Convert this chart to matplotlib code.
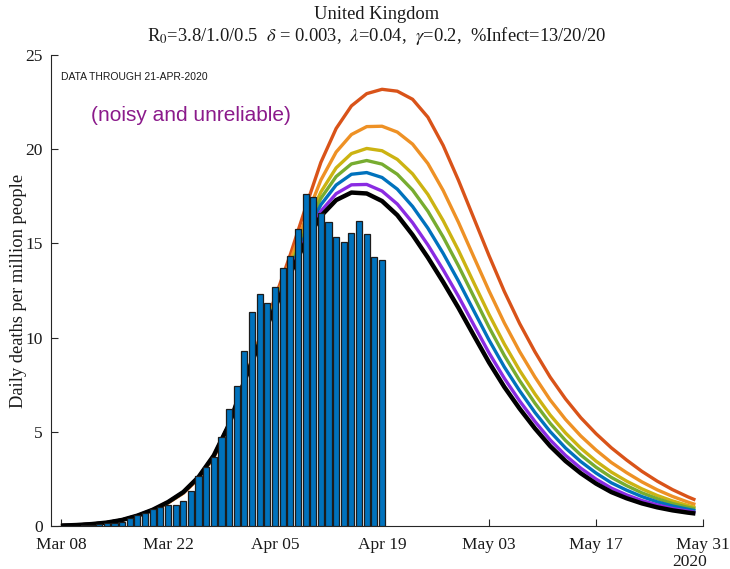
import numpy as np
import matplotlib
matplotlib.use("Agg")
import matplotlib.pyplot as plt

plt.rcParams["mathtext.fontset"] = "stix"
SERIF = ["Liberation Serif", "DejaVu Serif"]
SANS = ["Liberation Sans", "DejaVu Sans"]

# Observed daily deaths per million, Mar 08 .. Apr 19 (one value per day)
obs_start = 0  # day offset of Mar 08
observed = [0.00, 0.02, 0.02, 0.03, 0.05, 0.08,
            0.18, 0.18, 0.23, 0.44, 0.58, 0.67, 0.89, 1.03, 1.11, 1.11,
            1.34, 1.86, 2.67, 3.15, 3.68, 4.71, 6.23, 7.43, 9.31, 11.38,
            12.31, 11.82, 12.67, 13.68, 14.35, 15.75, 17.62, 17.45, 16.60,
            16.15, 15.32, 15.09, 15.53, 16.19, 15.50, 14.26, 14.12]

# Model days (offset from Mar 08)
model_days = [0, 2, 4, 6, 8, 10, 12, 14, 16, 18, 20, 22, 24, 26, 28, 30, 32,
              34, 36, 38, 40, 42, 44, 46, 48, 50, 52, 54, 56, 58, 60, 62, 64,
              66, 68, 70, 72, 74, 76, 78, 80, 82, 83]

model_red = [0.02, 0.05, 0.10, 0.18, 0.31, 0.53, 0.83, 1.22, 1.74, 2.52, 3.65,
             5.35, 7.75, 10.00, 12.10, 14.40, 16.90, 19.30, 21.10, 22.30,
             22.95, 23.18, 23.08, 22.65, 21.70, 20.20, 18.35, 16.35, 14.35,
             12.45, 10.75, 9.25, 7.90, 6.75, 5.75, 4.90, 4.15, 3.50, 2.90,
             2.38, 1.93, 1.55, 1.38]
model_orange = [0.02, 0.05, 0.10, 0.18, 0.31, 0.54, 0.84, 1.24, 1.76, 2.55,
                3.68, 5.37, 7.73, 9.92, 11.94, 14.07, 16.31, 18.36, 19.85,
                20.78, 21.20, 21.22, 20.91, 20.27, 19.24, 17.81, 16.12, 14.29,
                12.48, 10.78, 9.26, 7.91, 6.69, 5.66, 4.78, 4.03, 3.37, 2.83,
                2.34, 1.92, 1.57, 1.27, 1.14]
model_yellow = [0.02, 0.05, 0.10, 0.18, 0.32, 0.54, 0.85, 1.25, 1.77, 2.56,
                3.70, 5.38, 7.72, 9.86, 11.83, 13.85, 15.91, 17.73, 19.01,
                19.77, 20.04, 19.92, 19.46, 18.69, 17.60, 16.21, 14.63, 12.92,
                11.23, 9.66, 8.26, 7.01, 5.89, 4.94, 4.13, 3.44, 2.86, 2.38,
                1.97, 1.62, 1.33, 1.09, 0.98]
model_green = [0.02, 0.05, 0.10, 0.18, 0.32, 0.54, 0.85, 1.25, 1.78, 2.57,
               3.72, 5.38, 7.72, 9.83, 11.77, 13.73, 15.69, 17.39, 18.55,
               19.22, 19.40, 19.21, 18.67, 17.83, 16.71, 15.34, 13.81, 12.18,
               10.55, 9.05, 7.72, 6.52, 5.45, 4.54, 3.77, 3.12, 2.58, 2.14,
               1.76, 1.45, 1.19, 0.99, 0.90]
model_blue = [0.02, 0.05, 0.10, 0.18, 0.32, 0.55, 0.85, 1.26, 1.79, 2.58,
              3.73, 5.39, 7.71, 9.80, 11.71, 13.61, 15.48, 17.05, 18.10,
              18.67, 18.76, 18.50, 17.88, 16.96, 15.81, 14.47, 13.00, 11.43,
              9.87, 8.44, 7.18, 6.03, 5.01, 4.14, 3.42, 2.81, 2.29, 1.90,
              1.56, 1.28, 1.06, 0.89, 0.81]
model_purple = [0.02, 0.05, 0.10, 0.18, 0.32, 0.55, 0.86, 1.27, 1.79, 2.59,
                3.74, 5.40, 7.70, 9.77, 11.65, 13.49, 15.26, 16.71, 17.64,
                18.11, 18.13, 17.78, 17.09, 16.10, 14.92, 13.60, 12.19, 10.68,
                9.19, 7.84, 6.64, 5.55, 4.57, 3.75, 3.07, 2.49, 2.01, 1.65,
                1.35, 1.12, 0.93, 0.79, 0.72]
model_black = [0.02, 0.05, 0.10, 0.18, 0.32, 0.55, 0.86, 1.27, 1.80, 2.60,
               3.75, 5.40, 7.70, 9.75, 11.60, 13.40, 15.10, 16.45, 17.30,
               17.70, 17.65, 17.25, 16.50, 15.45, 14.25, 12.95, 11.58, 10.12,
               8.68, 7.38, 6.23, 5.18, 4.24, 3.45, 2.80, 2.25, 1.80, 1.47,
               1.20, 0.99, 0.83, 0.71, 0.66]

tick_days = [0, 14, 28, 42, 56, 70, 84]
tick_labels = ["Mar 08", "Mar 22", "Apr 05", "Apr 19", "May 03", "May 17", "May 31"]
y_ticks = [0, 5, 10, 15, 20, 25]

curves = [
    (model_red, "#D95319", 2.4),
    (model_orange, "#EE9125", 2.4),
    (model_yellow, "#CCB312", 2.4),
    (model_green, "#77AC30", 2.4),
    (model_blue, "#0072BD", 2.4),
    (model_purple, "#8A2BE2", 2.4),
    (model_black, "#000000", 3.2),
]

fig = plt.figure(figsize=(7.30, 5.69), dpi=100)
ax = fig.add_axes([0.0699, 0.0756, 0.8932, 0.8277])

for vals, col, lw in curves:
    ax.plot(model_days, vals, color=col, lw=lw, zorder=2,
            solid_capstyle="butt", solid_joinstyle="round")

obs_days = np.arange(len(observed)) + obs_start
ax.bar(obs_days, observed, width=0.8, color="#0072BD", edgecolor="#1c1c1c",
       linewidth=0.9, zorder=3)

ax.set_xlim(-1.3, 84)
ax.set_ylim(0, 25)
ax.set_xticks(tick_days)
ax.set_xticklabels(tick_labels)
ax.set_yticks(y_ticks)

for side in ["top", "right"]:
    ax.spines[side].set_visible(False)
for side in ["left", "bottom"]:
    ax.spines[side].set_color("#262626")
    ax.spines[side].set_linewidth(0.8)
ax.tick_params(direction="in", length=5, width=0.8, color="#262626",
               labelcolor="#1a1a1a", labelsize=12.5)
ax.tick_params(axis="x", pad=8)
ax.tick_params(axis="y", pad=6)
for lab in ax.get_xticklabels() + ax.get_yticklabels():
    lab.set_fontfamily(SERIF)

ax.set_ylabel("Daily deaths per million people", fontfamily=SERIF,
              fontsize=13.3, color="#1a1a1a")
ax.yaxis.set_label_coords(-0.037, 0.5)

title_x = 0.5164
fig.text(title_x, 0.975, "United Kingdom", ha="center", va="center",
         fontfamily=SERIF, fontsize=13.3, color="#1a1a1a")
fig.text(title_x, 0.937,
         r"R$_0$=3.8/1.0/0.5  $\delta$ = 0.003,  $\lambda$=0.04,  $\gamma$=0.2,  %Infect=13/20/20",
         ha="center", va="center", fontfamily=SERIF, fontsize=13.3,
         color="#1a1a1a")

ax.text(0.0, 23.83, "DATA THROUGH 21-APR-2020", ha="left", va="center",
        fontfamily=SANS, fontsize=7.5, color="#1a1a1a")
ax.text(3.9, 21.8, "(noisy and unreliable)", ha="left", va="center",
        fontfamily=SANS, fontsize=15, color="#8B1A8B")

fig.text(0.945, 0.012, "2020", ha="center", va="center",
         fontfamily=SERIF, fontsize=12.5, color="#1a1a1a")

fig.savefig("out.png", dpi=100)
